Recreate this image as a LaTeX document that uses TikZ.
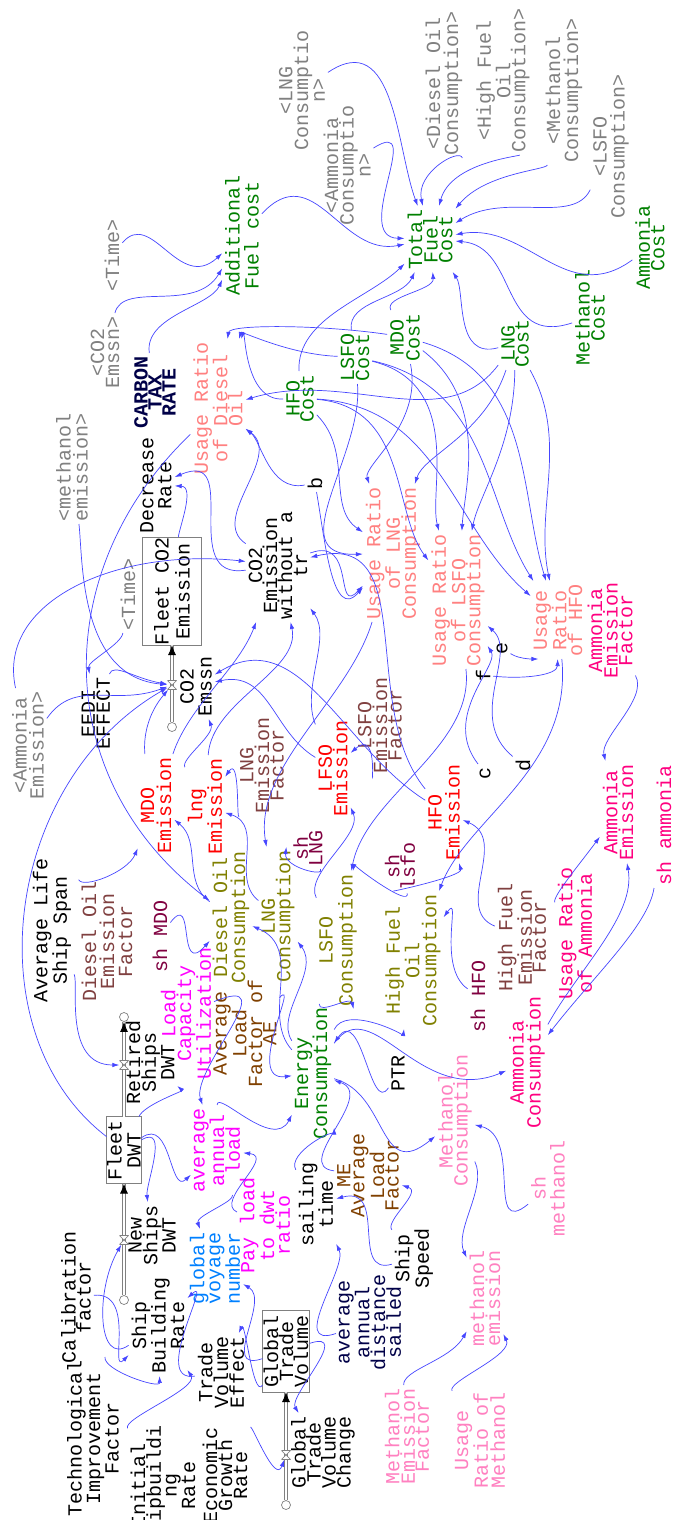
\documentclass[tikz,border=0pt]{standalone}
\usepackage{fontspec}
\setmainfont{Liberation Mono}
\usepackage{tikz}
\usetikzlibrary{arrows.meta}

\definecolor{linkblue}{RGB}{70,70,255}
\definecolor{shgray}{RGB}{128,128,128}
\definecolor{costgreen}{RGB}{0,128,0}
\definecolor{ratiosalmon}{RGB}{255,128,128}
\definecolor{emisred}{RGB}{255,0,0}
\definecolor{facbrown}{RGB}{128,64,64}
\definecolor{consolive}{RGB}{128,128,0}
\definecolor{sharepurple}{RGB}{128,0,64}
\definecolor{loadmag}{RGB}{255,0,255}
\definecolor{lfbrown}{RGB}{128,64,0}
\definecolor{ammpink}{RGB}{255,0,128}
\definecolor{methpink}{RGB}{255,128,192}
\definecolor{voyblue}{RGB}{0,128,255}
\definecolor{darknavy}{RGB}{0,0,72}

\newcommand{\vf}[1]{\fontsize{20}{#1}\selectfont}

\tikzset{
  v/.style={rotate=90, align=center, inner sep=1pt, outer sep=2pt, font=\vf{#1}},
  v/.default=15,
  shadowvar/.style={text=shgray},
  costvar/.style={text=costgreen},
  ratiovar/.style={text=ratiosalmon},
  emisvar/.style={text=emisred},
  factorvar/.style={text=facbrown},
  consvar/.style={text=consolive},
  sharevar/.style={text=sharepurple},
  loadvar/.style={text=loadmag},
  loadfac/.style={text=lfbrown},
  ammvar/.style={text=ammpink},
  methvar/.style={text=methpink},
  voyvar/.style={text=voyblue},
  navyvar/.style={text=darknavy},
  stock/.style={draw=shgray, rotate=90, align=center, inner sep=0pt, outer sep=0pt},
  ln/.style={draw=linkblue, line width=0.7pt, -{Latex[length=7pt,width=4.5pt]}},
  pipe/.style={draw=shgray, double=white, double distance=2.2pt, line width=0.7pt},
  pipetip/.style={draw=white, line width=0.8pt, -{Latex[length=10pt,width=8pt,color=black]}},
  cloud/.style={circle, draw=shgray, fill=white, line width=0.7pt, minimum size=9pt, inner sep=0pt},
  valve/.style={inner sep=0pt, minimum width=9pt, minimum height=9pt,
    path picture={\draw[shgray, fill=white, line width=0.6pt]
      (path picture bounding box.north west) -- (path picture bounding box.north east)
      -- (path picture bounding box.south west) -- (path picture bounding box.south east) -- cycle;}}
}

\begin{document}
\begin{tikzpicture}[x=1pt,y=-1pt]
  \fill[white] (0,0) rectangle (675,1520);
  \useasboundingbox (0,0) rectangle (675,1520);

  \node[v=11, shadowvar] (lngCsh) at (302,90) {<LNG\\Consumptio\\n>};
  \node[v=11, shadowvar] (ammCsh) at (347,165) {<Ammonia\\Consumptio\\n>};
  \node[v=18, shadowvar] (dieCsh) at (444,83) {<Diesel Oil\\Consumption>};
  \node[v=15, shadowvar] (hfoCsh) at (503,80) {<High Fuel\\Oil\\Consumption>};
  \node[v=18, shadowvar] (metCsh) at (564,90) {<Methanol\\Consumption>};
  \node[v=18, shadowvar] (lsfoCsh) at (611,146) {<LSFO\\Consumption>};
  \node[v=12, costvar] (ammCost) at (650,247) {Ammonia\\Cost};
  \node[v=13, costvar] (tfc) at (430,239) {Total\\Fuel\\Cost};
  \node[v=15, costvar] (metCost) at (590,317) {Methanol\\Cost};
  \node[v=14, costvar] (lngCost) at (515,343) {LNG\\Cost};
  \node[v=16, costvar] (mdoCost) at (405,337) {MDO\\Cost};
  \node[v=15, costvar] (lsfoCost) at (355,357) {LSFO\\Cost};
  \node[v=14, costvar] (hfoCost) at (300,398) {HFO\\Cost};
  \node[v=19, costvar] (addCost) at (242,235) {Additional\\Fuel cost};
  \node[v, shadowvar] (timeA) at (112,255) {<Time>};
  \node[v=15, shadowvar] (co2sh) at (105,352) {<CO2\\Emssn>};
  \node[v=14, navyvar, font=\vf{14}\bfseries] (ctr) at (155,392) {CARBON\\TAX\\RATE};
  \node[v=18] (decr) at (156,485) {Decrease\\Rate};
  \node[v=15, ratiovar] (urDie) at (218,408) {Usage Ratio\\of Diesel\\Oil};
  \node[v] (b) at (315,483) {b};
  \node[v=17, shadowvar] (metEmSh) at (72,467) {<methanol\\emission>};
  \node[stock, font=\vf{21}, minimum width=103pt, minimum height=59pt] (fleetCO2) at (172,591) {Fleet CO2\\Emission};
  \node[v=15] (co2wo) at (278,565) {CO2\\Emission\\without a\\tr};
  \node[v, shadowvar] (timeB) at (128,594) {<Time>};
  \node[v=15] (eedi) at (96,713) {EEDI\\EFFECT};
  \node[v=18] (co2fl) at (196,686) {CO2\\Emssn};
  \node[v=17, shadowvar] (ammEmSh) at (28,745) {<Ammonia\\Emission>};
  \node[v=16, ratiovar] (urLNG) at (393,553) {Usage Ratio\\of LNG\\Consumption};
  \node[v=15, ratiovar] (urLSFO) at (458,600) {Usage Ratio\\of LSFO\\Consumption};
  \node[v=10, ratiovar] (urHFO) at (558,620) {Usage\\Ratio\\of HFO};
  \node[v=12, ammvar] (ammEF) at (610,630) {Ammonia\\Emission\\Factor};
  \node[v] (e) at (502,648) {e};
  \node[v] (f) at (483,675) {f};
  \node[v] (c) at (485,773) {c};
  \node[v] (d) at (523,765) {d};
  \node[v=12, factorvar] (lsfoEF) at (380,725) {LSFO\\Emission\\Factor};
  \node[v=10, emisvar] (lfsoEm) at (333,768) {LFSO\\Emission};
  \node[v=10, factorvar] (lngEF) at (262,765) {LNG\\Emission\\Factor};
  \node[v=16, emisvar] (lngEm) at (205,806) {lng\\Emission};
  \node[v=17, emisvar] (mdoEm) at (156,805) {MDO\\Emission};
  \node[v=10, sharevar] (shLNG) at (308,848) {sh\\LNG};
  \node[v=14, sharevar] (shLSFO) at (400,866) {sh\\lsfo};
  \node[v=18, emisvar] (hfoEm) at (444,812) {HFO\\Emission};
  \node[v=10, ammvar] (ammEm) at (618,812) {Ammonia\\Emission};
  \node[v, ammvar] (shAmm) at (664,825) {sh ammonia};
  \node[v=17] (avgLife) at (52,930) {Average Life\\Ship Span};
  \node[v=18, factorvar] (dieEF) at (107,941) {Diesel Oil\\Emission\\Factor};
  \node[v, sharevar] (shMDO) at (160,936) {sh MDO};
  \node[v=12, loadvar] (lcu) at (186,1013) {Load\\Capacity\\Utilization};
  \node[v=18, consvar] (dieCons) at (231,917) {Diesel Oil\\Consumption};
  \node[v=11, consvar] (lngCons) at (278,916) {LNG\\Consumption};
  \node[v=20, consvar] (lsfoCons) at (338,940) {LSFO\\Consumption};
  \node[v=17, consvar] (hfoCons) at (413,960) {High Fuel\\Oil\\Consumption};
  \node[v, sharevar] (shHFO) at (478,996) {sh HFO};
  \node[v=14, factorvar] (hfEF) at (522,937) {High Fuel\\Emission\\Factor};
  \node[v=16, ammvar] (urAmm) at (575,933) {Usage Ratio\\of Ammonia};
  \node[v=9, loadfac] (alfAE) at (245,1033) {Average\\Load\\Factor of\\AE};
  \node[v=19, costvar] (energy) at (313,1073) {Energy\\Consumption};
  \node[v] (ptr) at (398,1073) {PTR};
  \node[v=17, ammvar] (ammCons) at (527,1062) {Ammonia\\Consumption};
  \node[v=12] (retired) at (150,1062) {Retired\\Ships\\DWT};
  \node[stock, font=\vf{19}, minimum width=67pt, minimum height=35pt] (fleetDWT) at (124,1150) {Fleet\\DWT};
  \node[v=13, loadvar] (aal) at (217,1150) {average\\annual\\load};
  \node[v=15, methvar] (metCons) at (455,1120) {Methanol\\Consumption};
  \node[v=12, loadfac] (meALF) at (368,1175) {ME\\Average\\Load\\Factor};
  \node[v=19, methvar] (shMeth) at (548,1188) {sh\\methanol};
  \node[v=17] (sailing) at (316,1204) {sailing\\time};
  \node[v=10, loadvar] (pltd) at (265,1225) {Pay load\\to dwt\\ratio};
  \node[v=14] (newShips) at (152,1235) {New\\Ships\\DWT};
  \node[v=12, voyvar] (gvn) at (215,1268) {global\\voyage\\number};
  \node[v=18] (speed) at (414,1258) {Ship\\Speed};
  \node[v=16, methvar] (metEm) at (485,1298) {methanol\\emission};
  \node[v=15] (calib) at (76,1297) {Calibration\\factor};
  \node[v=14] (sbr) at (158,1325) {Ship\\Building\\Rate};
  \node[v=11.5, navyvar] (aads) at (370,1322) {average\\annual\\distance\\sailed};
  \node[v=12.5] (tve) at (221,1372) {Trade\\Volume\\Effect};
  \node[stock, font=\vf{15}, minimum width=82pt, minimum height=47pt] (gtv) at (286,1351) {Global\\Trade\\Volume};
  \node[v=13.5] (techF) at (93,1438) {Technological\\Improvement\\Factor};
  \node[v=12.7] (initSR) at (163,1485) {Initial\\Shipbuildi\\ng\\Rate};
  \node[v=15] (egr) at (225,1475) {Economic\\Growth\\Rate};
  \node[v=15] (gtvc) at (323,1452) {Global\\Trade\\Volume\\Change};
  \node[v=14, methvar] (metEF) at (407,1436) {Methanol\\Emission\\Factor};
  \node[v=17, methvar] (urMeth) at (480,1440) {Usage\\Ratio of\\Methanol};

  \node[cloud] (cloudC) at (172,727) {};
  \node[valve] (valveC) at (172,685) {};
  \node[cloud] (cloudR) at (124,1017) {};
  \node[valve] (valveR) at (124,1065) {};
  \node[cloud] (cloudN) at (124,1300) {};
  \node[valve] (valveN) at (124,1240) {};
  \node[cloud] (cloudG) at (286,1505) {};
  \node[valve] (valveG) at (286,1455) {};

  \draw[pipe] (cloudC) -- (fleetCO2);
  \draw[pipetip] (valveC) -- (fleetCO2);
  \draw[pipe] (fleetDWT) -- (cloudR);
  \draw[pipetip] (valveR) -- (cloudR);
  \draw[pipe] (cloudN) -- (fleetDWT);
  \draw[pipetip] (valveN) -- (fleetDWT);
  \draw[pipe] (cloudG) -- (gtv);
  \draw[pipetip] (valveG) -- (gtv);
  \node[valve] at (valveC) {};
  \node[valve] at (valveR) {};
  \node[valve] at (valveN) {};
  \node[valve] at (valveG) {};

  \draw[ln] (lngCsh) to[out=0,in=95] (tfc);
  \draw[ln] (ammCsh) to[out=-10,in=150] (tfc);
  \draw[ln] (dieCsh) to[out=-95,in=80] (tfc);
  \draw[ln] (hfoCsh) to[out=-100,in=50] (tfc);
  \draw[ln] (metCsh) to[out=-120,in=25] (tfc);
  \draw[ln] (lsfoCsh) to[out=-135,in=10] (tfc);
  \draw[ln] (ammCost) to[out=190,in=-10] (tfc);
  \draw[ln] (metCost) to[out=165,in=-30] (tfc);
  \draw[ln] (lngCost) to[out=170,in=-80] (tfc);
  \draw[ln] (mdoCost) to[out=95,in=-120] (tfc);
  \draw[ln] (lsfoCost) to[out=80,in=-150] (tfc);
  \draw[ln] (hfoCost) to[out=80,in=-160] (tfc);
  \draw[ln] (addCost) to[out=10,in=170] (tfc);

  \draw[ln] (timeA) to[out=30,in=175] (addCost);
  \draw[ln] (co2sh) to[out=60,in=200] (addCost);
  \draw[ln] (ctr) to[out=80,in=225] (addCost);

  \draw[ln] (mdoCost) to[out=150,in=60] (urDie);
  \draw[ln] (lsfoCost) to[out=150,in=30] (urDie);
  \draw[ln] (hfoCost) to[out=150,in=15] (urDie);
  \draw[ln] (lngCost) to[out=220,in=-15] (urDie);
  \draw[ln] (b) to[out=180,in=-70] (urDie);
  \draw[ln] (co2wo) to[out=120,in=-60] (urDie);

  \draw[ln] (co2wo) to[out=150,in=-10] (decr);
  \draw[ln] (fleetCO2) to[out=20,in=-45] (decr);

  \draw[ln] (mdoEm) to[out=60,in=225] (co2wo);
  \draw[ln] (lngEm) to[out=75,in=-95] (co2wo);
  \draw[ln] (lfsoEm) to[out=100,in=-75] (co2wo);
  \draw[ln] (hfoEm) to[out=120,in=-10] (co2wo);
  \draw[ln] (ammEmSh) to[out=95,in=150,looseness=1.4] (co2wo);

  \draw[ln] (eedi) to[out=20,in=170] (valveC);
  \draw[ln] (metEmSh) to[out=-95,in=175] (valveC);
  \draw[ln] (ammEmSh) to[out=10,in=200] (valveC);
  \draw[ln] (mdoEm) to[out=80,in=230] (valveC);
  \draw[ln] (fleetDWT) to[out=135,in=210] (valveC);
  \draw[ln] (lngEm) to[out=95,in=-90] (co2fl);
  \draw[ln] (lfsoEm) to[out=130,in=-15] (co2fl);
  \draw[ln] (hfoEm) to[out=135,in=15] (co2fl);
  \draw[ln] (timeB) to[out=250,in=80] (eedi);

  \draw[ln] (hfoCost) to[out=-60,in=120] (urLNG);
  \draw[ln] (lsfoCost) to[out=-95,in=150] (urLNG);
  \draw[ln] (mdoCost) to[out=-90,in=90] (urLNG);
  \draw[ln] (lngCost) to[out=-120,in=50] (urLNG);
  \draw[ln] (b) to[out=-90,in=180] (urLNG);
  \draw[ln] (co2wo) to[out=-30,in=175] (urLNG);

  \draw[ln] (hfoCost) to[out=-20,in=110] (urLSFO);
  \draw[ln] (lsfoCost) to[out=-30,in=90] (urLSFO);
  \draw[ln] (lngCost) to[out=-100,in=60] (urLSFO);
  \draw[ln] (mdoCost) to[out=-50,in=70] (urLSFO);
  \draw[ln] (c) to[out=120,in=-80] (urLSFO);
  \draw[ln] (d) to[out=130,in=-65] (urLSFO);

  \draw[ln] (hfoCost) to[out=-15,in=125] (urHFO);
  \draw[ln] (lsfoCost) to[out=-25,in=110] (urHFO);
  \draw[ln] (mdoCost) to[out=-30,in=95] (urHFO);
  \draw[ln] (lngCost) to[out=-70,in=88] (urHFO);
  \draw[ln] (e) to[out=-60,in=180] (urHFO);
  \draw[ln] (f) to[out=-20,in=225] (urHFO);

  \draw[ln] (urDie) to[out=210,in=135,looseness=1.2] (dieCons);
  \draw[ln] (urLNG) to[out=-120,in=92] (lngCons);
  \draw[ln] (urLSFO) to[out=-95,in=70] (lsfoCons);
  \draw[ln] (urHFO) to[out=-95,in=55] (hfoCons);

  \draw[ln] (lngEF) to[out=190,in=0] (lngEm);
  \draw[ln] (lngCons) to[out=120,in=-45] (lngEm);
  \draw[ln] (dieCons) to[out=120,in=-60] (mdoEm);
  \draw[ln] (dieEF) to[out=85,in=200] (mdoEm);
  \draw[ln] (shMDO) to[out=10,in=170] (dieCons);
  \draw[ln] (lsfoEF) to[out=200,in=-20] (lfsoEm);
  \draw[ln] (lsfoCons) to[out=100,in=-80] (lfsoEm);
  \draw[ln] (shLNG) to[out=-90,in=30] (lngCons);
  \draw[ln] (shLSFO) to[out=-100,in=20] (lsfoCons);
  \draw[ln] (hfEF) to[out=130,in=-45] (hfoEm);
  \draw[ln] (hfoCons) to[out=80,in=-90] (hfoEm);
  \draw[ln] (shHFO) to[out=130,in=0] (hfoCons);
  \draw[ln] (ammEF) to[out=-80,in=90] (ammEm);
  \draw[ln] (urAmm) to[out=95,in=180] (ammEm);
  \draw[ln] (ammCons) to[out=45,in=-90] (ammEm);
  \draw[ln] (shAmm) to[out=-105,in=30] (ammCons);
  \draw[ln] (energy) to[out=30,in=165] (ammCons);

  \draw[ln] (aal) to[out=60,in=190] (energy);
  \draw[ln] (alfAE) to[out=0,in=150] (energy);
  \draw[ln] (sailing) to[out=100,in=-90] (energy);
  \draw[ln] (meALF) to[out=135,in=-45] (energy);
  \draw[ln] (ptr) to[out=220,in=0] (energy);
  \draw[ln] (energy) to[out=-40,in=175] (metCons);
  \draw[ln] (energy) to[out=30,in=230] (hfoCons);
  \draw[ln] (energy) to[out=60,in=-100] (lsfoCons);
  \draw[ln] (energy) to[out=115,in=-45] (dieCons);
  \draw[ln] (energy) to[out=105,in=-70] (lngCons);

  \draw[ln] (lcu) to[out=-20,in=90] (aal);
  \draw[ln] (pltd) to[out=120,in=-45] (aal);
  \draw[ln] (fleetDWT) to[out=0,in=180] (aal);
  \draw[ln] (fleetDWT) to[out=-10,in=60] (newShips);
  \draw[ln] (fleetDWT) to[out=20,in=-80] (retired);
  \draw[ln] (aal) to[out=-100,in=80] (gvn);
  \draw[ln] (avgLife) to[out=-85,in=180] (valveR);
  \draw[ln] (sbr) to[out=170,in=240] (valveN);
  \draw[ln] (calib) to[out=-30,in=180] (sbr);
  \draw[ln] (techF) to[out=45,in=-120] (sbr);
  \draw[ln] (initSR) to[out=95,in=-80] (sbr);
  \draw[ln] (tve) to[out=150,in=0] (sbr);
  \draw[ln] (gtv) to[out=190,in=20] (tve);
  \draw[ln] (gtv) to[out=160,in=-60] (gvn);
  \draw[ln] (egr) to[out=0,in=250] (valveG);
  \draw[ln] (gtv) to[out=-20,in=90] (gtvc);
  \draw[ln] (aads) to[out=160,in=-80] (sailing);
  \draw[ln] (speed) to[out=165,in=-25] (sailing);
  \draw[ln] (speed) to[out=100,in=-60] (meALF);
  \draw[ln] (shMeth) to[out=180,in=-40] (metCons);
  \draw[ln] (metCons) to[out=-80,in=100] (metEm);
  \draw[ln] (metEF) to[out=70,in=210] (metEm);
  \draw[ln] (urMeth) to[out=95,in=-80] (metEm);
\end{tikzpicture}
\end{document}
